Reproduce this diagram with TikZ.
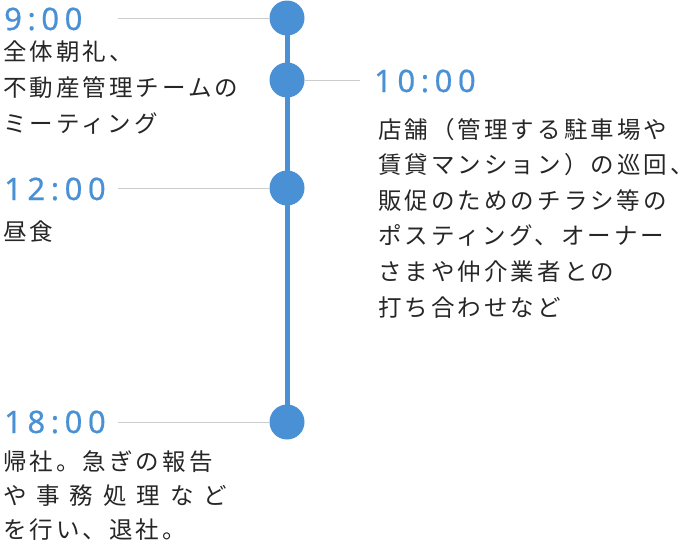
\documentclass[tikz,border=0pt]{standalone}
\usepackage{fontspec}
\setmainfont{Noto Sans CJK JP}
\newfontfamily\timefont[LetterSpace=18,FakeBold=0.6]{Noto Sans}
\newfontfamily\jpfont[LetterSpace=13]{Noto Sans CJK JP}
\newfontfamily\jpwide[LetterSpace=42]{Noto Sans CJK JP}
\definecolor{tblue}{HTML}{4A90D4}
\definecolor{tgray}{HTML}{CCCCCC}
\begin{document}
\begin{tikzpicture}[x=1pt,y=-1pt,
  dot/.style={circle,fill=tblue,minimum size=35pt,inner sep=0},
  tick/.style={draw=tgray,line width=1pt},
  time/.style={anchor=base west,inner sep=0,text=tblue,font=\fontsize{31}{31}\timefont},
  desc/.style={anchor=base west,inner sep=0,align=left,text=black!85,font=\fontsize{23.5}{35.6}\jpfont}]
\useasboundingbox (0,0) rectangle (681,549);
\draw[tblue,line width=5pt] (287,18) -- (287,422);
\node[dot] (d1) at (287,18) {};
\node[dot] (d2) at (287,80) {};
\node[dot] (d3) at (287,188) {};
\node[dot] (d4) at (287,422) {};
\coordinate (c1) at (118,18);
\coordinate (c2) at (360,80);
\coordinate (c3) at (118,188);
\coordinate (c4) at (118,422);
\draw[tick] (c1) -- (d1.west);
\draw[tick] (d2.east) -- (c2);
\draw[tick] (c3) -- (d3.west);
\draw[tick] (c4) -- (d4.west);
\node[time] (t1) at (4,30) {9:00};
\node[time] (t2) at (374,92) {10:00};
\node[time] (t3) at (4,200) {12:00};
\node[time] (t4) at (4,433) {18:00};
\node[desc,font=\fontsize{23.5}{36}\jpfont] (x1) at (3,132) {全体朝礼、\\不動産管理チームの\\ミーティング};
\node[desc] (x2) at (378,316) {店舗（管理する駐車場や\\賃貸マンション）の巡回、\\販促のためのチラシ等の\\ポスティング、オーナー\\さまや仲介業者との\\打ち合わせなど};
\node[desc] (x3) at (3,240) {昼食};
\node[desc,font=\fontsize{23.5}{34}\jpfont] (x4) at (3,538) {帰社。急ぎの報告\\{\jpwide や事務処理など}\\を行い、退社。};
\end{tikzpicture}
\end{document}
